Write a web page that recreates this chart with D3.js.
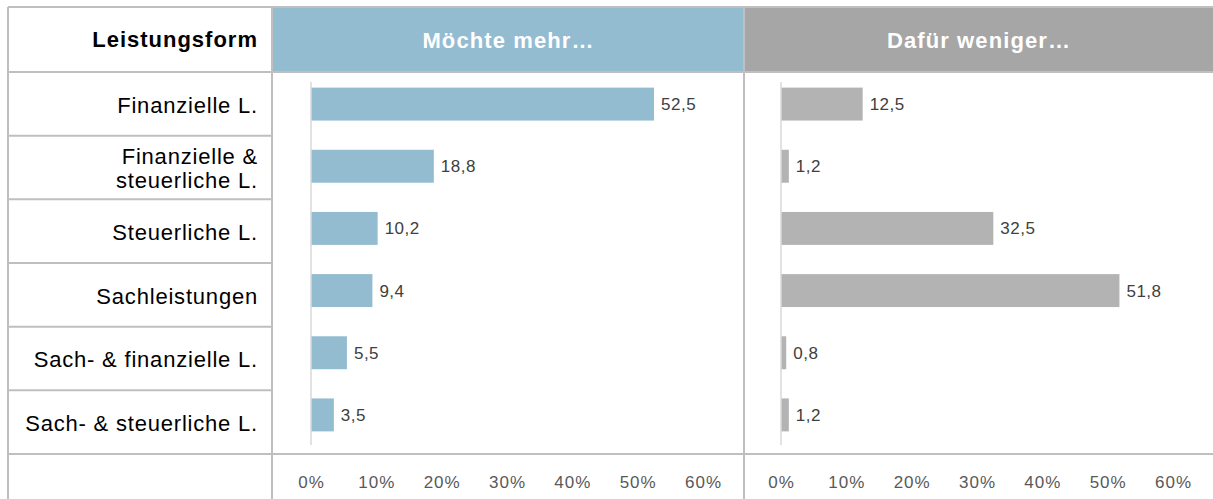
<!DOCTYPE html>
<html>
<head>
<meta charset="utf-8">
<script src="https://cdn.jsdelivr.net/npm/d3@7"></script>
<style>
  body { margin: 0; background: #fff; }
  svg { display: block; font-family: "Liberation Sans", Arial, sans-serif; }
</style>
</head>
<body>
<svg id="chart" width="1213" height="499"></svg>
<script>
// data
var categories = [
	'Finanzielle L.',
	'Finanzielle &\nsteuerliche L.',
	'Steuerliche L.',
	'Sachleistungen',
	'Sach- & finanzielle L.',
	'Sach- & steuerliche L.'
];
var moechteMehr = [52.5, 18.8, 10.2, 9.4, 5.5, 3.5];
var dafuerWeniger = [12.5, 1.2, 32.5, 51.8, 0.8, 1.2];
var tickValues = [0, 10, 20, 30, 40, 50, 60];
var headers = ['Leistungsform', 'Möchte mehr…', 'Dafür weniger…'];

var W = 1213, H = 499;
var gridColor = '#bfbfbf';
var de = d3.formatLocale({decimal: ',', thousands: '.', grouping: [3], currency: ['', ' €']});
var fmt = de.format('.1f');

var svg = d3.select('#chart');

// table geometry
var colX = [8, 272, 744, W];
var headTop = 7, headBottom = 72, tableBottom = 454;

var rowScale = d3.scaleBand().domain(categories).range([headBottom, tableBottom]);
var barScale = d3.scaleBand().domain(categories).range([73, 446]).paddingInner(0.47).paddingOuter(0.235);

// header fills
svg.append('rect').attr('x', colX[1]).attr('y', headTop).attr('width', colX[2] - colX[1]).attr('height', headBottom - headTop).attr('fill', '#93bcd1');
svg.append('rect').attr('x', colX[2]).attr('y', headTop).attr('width', colX[3] - colX[2]).attr('height', headBottom - headTop).attr('fill', '#a6a6a6');

// header texts
svg.append('text').attr('x', 258).attr('y', (headTop + headBottom) / 2).attr('dy', '0.35em')
	.attr('text-anchor', 'end').attr('font-size', 22).attr('font-weight', 'bold').attr('fill', '#000')
	.attr('letter-spacing', 1).text(headers[0]);
[1, 2].forEach(function (i) {
	svg.append('text').attr('x', (colX[i] + colX[i + 1]) / 2 + 0.5).attr('y', (headTop + headBottom) / 2 + 1).attr('dy', '0.35em')
		.attr('text-anchor', 'middle').attr('font-size', 22).attr('font-weight', 'bold').attr('fill', '#fff')
		.attr('letter-spacing', 1.1).text(headers[i]);
});

// category labels
var catG = svg.append('g').attr('font-size', 22).attr('fill', '#000').attr('text-anchor', 'end').attr('letter-spacing', 0.8);
categories.forEach(function (c) {
	var lines = c.split('\n');
	var cy = rowScale(c) + rowScale.bandwidth() / 2 + 1;
	var lh = 24;
	var t = catG.append('text').attr('y', cy - (lines.length - 1) * lh / 2);
	lines.forEach(function (l, i) {
		t.append('tspan').attr('x', 258).attr('dy', i === 0 ? '0.35em' : lh).text(l);
	});
});

// panels
var panels = [
	{values: moechteMehr, x0: 311, color: '#93bcd1'},
	{values: dafuerWeniger, x0: 781, color: '#b3b3b3'}
];

panels.forEach(function (p) {
	var x = d3.scaleLinear().domain([0, 60]).range([p.x0, p.x0 + 392]);
	var g = svg.append('g');

	g.selectAll('rect.bar')
		.data(p.values)
		.enter().append('rect')
		.attr('class', 'bar')
		.attr('x', x(0))
		.attr('y', function (d, i) { return barScale(categories[i]); })
		.attr('width', function (d) { return x(d) - x(0); })
		.attr('height', barScale.bandwidth())
		.attr('fill', p.color);

	// vertical axis line
	g.append('line')
		.attr('x1', x(0)).attr('x2', x(0))
		.attr('y1', 82).attr('y2', 445)
		.attr('stroke', '#d9d9d9').attr('stroke-width', 1.5);

	g.selectAll('text.val')
		.data(p.values)
		.enter().append('text')
		.attr('class', 'val')
		.attr('x', function (d) { return x(d) + 7; })
		.attr('y', function (d, i) { return barScale(categories[i]) + barScale.bandwidth() / 2; })
		.attr('dy', '0.35em')
		.attr('font-size', 17)
		.attr('letter-spacing', 0.5)
		.attr('fill', '#404040')
		.text(function (d) { return fmt(d); });

	var axis = d3.axisBottom(x).tickValues(tickValues).tickSize(0).tickFormat(function (d) { return d + '%'; });
	var ag = g.append('g').attr('transform', 'translate(0,' + 473 + ')').call(axis);
	ag.select('.domain').remove();
	ag.selectAll('text').attr('font-size', 17).attr('letter-spacing', 1).attr('fill', '#595959')
		.attr('font-family', '"Liberation Sans", Arial, sans-serif');
});

// grid lines
var grid = svg.append('g').attr('stroke', gridColor).attr('stroke-width', 2);
grid.append('line').attr('x1', colX[0]).attr('x2', W).attr('y1', headTop).attr('y2', headTop);
grid.append('line').attr('x1', colX[0]).attr('x2', W).attr('y1', headBottom).attr('y2', headBottom);
grid.append('line').attr('x1', colX[0]).attr('x2', W).attr('y1', tableBottom).attr('y2', tableBottom);
categories.slice(1).forEach(function (c) {
	grid.append('line').attr('x1', colX[0]).attr('x2', colX[1]).attr('y1', rowScale(c)).attr('y2', rowScale(c));
});
colX.slice(0, 3).forEach(function (cx) {
	grid.append('line').attr('x1', cx).attr('x2', cx).attr('y1', headTop).attr('y2', H);
});
</script>
</body>
</html>
